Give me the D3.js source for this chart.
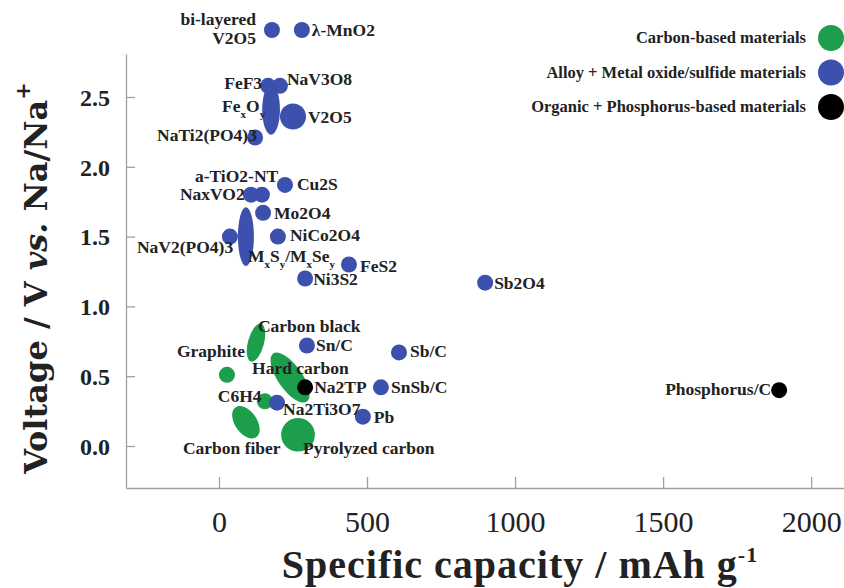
<!DOCTYPE html>
<html>
<head>
<meta charset="utf-8">
<script src="https://cdn.jsdelivr.net/npm/d3@7"></script>
<style>
  body { margin: 0; background: #fff; }
  text { font-family: "Liberation Serif", "Times New Roman", serif; }
</style>
</head>
<body>
<script>
// Materials (capacity in mAh/g, voltage in V vs Na/Na+)
const materials = ["bi-layered V2O5", "λ-MnO2", "FeF3", "NaV3O8", "FexOy", "V2O5", "NaTi2(PO4)3",
  "NaxVO2", "a-TiO2-NT", "Cu2S", "Mo2O4", "NiCo2O4", "NaV2(PO4)3", "MxSy/MxSey", "FeS2", "Ni3S2",
  "Sb2O4", "Sn/C", "Sb/C", "SnSb/C", "Pb", "Na2Ti3O7",
  "Carbon black", "Graphite", "Hard carbon", "C6H4", "Carbon fiber", "Pyrolyzed carbon",
  "Na2TP", "Phosphorus/C"];
const family = ["alloy", "alloy", "alloy", "alloy", "alloy", "alloy", "alloy",
  "alloy", "alloy", "alloy", "alloy", "alloy", "alloy", "alloy", "alloy", "alloy",
  "alloy", "alloy", "alloy", "alloy", "alloy", "alloy",
  "carbon", "carbon", "carbon", "carbon", "carbon", "carbon",
  "organic", "organic"];
const capacity = [179, 280, 166, 206, 176, 250, 122,
  108, 145, 223, 149, 199, 37, 91, 439, 291,
  899, 297, 608, 547, 486, 196,
  125, 27, 240, 155, 91, 267,
  291, 1892];
const voltage = [2.98, 2.98, 2.58, 2.58, 2.41, 2.36, 2.21,
  1.80, 1.80, 1.87, 1.67, 1.50, 1.50, 1.50, 1.30, 1.20,
  1.17, 0.72, 0.67, 0.42, 0.21, 0.31,
  0.74, 0.51, 0.49, 0.32, 0.17, 0.08,
  0.42, 0.40];
// half ranges (0 = single value)
const capRange = [0, 0, 0, 0, 30, 44, 0,
  0, 0, 0, 0, 0, 0, 27, 0, 0,
  0, 0, 0, 0, 0, 0,
  27, 0, 41, 0, 37, 57,
  0, 0];
const voltRange = [0, 0, 0, 0, 0.18, 0.093, 0,
  0, 0, 0, 0, 0, 0, 0.21, 0, 0,
  0, 0, 0, 0, 0, 0,
  0.14, 0, 0.21, 0, 0.13, 0.12,
  0, 0];

const xTicks = [0, 500, 1000, 1500, 2000];
const yTicks = [0, 0.5, 1.0, 1.5, 2.0, 2.5];
const legendLabels = ["Carbon-based materials", "Alloy + Metal oxide/sulfide materials", "Organic + Phosphorus-based materials"];
const legendKeys = ["carbon", "alloy", "organic"];

// label placement (pixels relative to marker), tilt of range ellipses
const labelText = {"bi-layered V2O5": ["bi-layered", "V2O5"], "FexOy": ["Fe_xO_y"], "MxSy/MxSey": ["M_xS_y/M_xSe_y"]};
const labelPos = {
  "bi-layered V2O5": [-16, -5, "end"], "λ-MnO2": [10, 6, "start"], "FeF3": [-6, 3, "end"],
  "NaV3O8": [7, -1, "start"], "FexOy": [-49, 2, "start"], "V2O5": [15, 6, "start"],
  "NaTi2(PO4)3": [-98, 4, "start"], "NaxVO2": [-71, 5, "start"], "a-TiO2-NT": [-67, -13, "start"],
  "Cu2S": [12, 5, "start"], "Mo2O4": [11, 6, "start"], "NiCo2O4": [12, 4, "start"],
  "NaV2(PO4)3": [-93, 16, "start"], "MxSy/MxSey": [2, 25, "start"], "FeS2": [11, 7, "start"],
  "Ni3S2": [8, 7, "start"], "Sb2O4": [9, 6, "start"], "Sn/C": [9, 6, "start"], "Sb/C": [11, 5, "start"],
  "SnSb/C": [10, 6, "start"], "Pb": [11, 6, "start"], "Na2Ti3O7": [6, 12, "start"],
  "Carbon black": [2, -11, "start"], "Graphite": [-50, -18, "start"], "Hard carbon": [-38, -4, "start"],
  "C6H4": [-47, 1, "start"], "Carbon fiber": [-63, 32, "start"], "Pyrolyzed carbon": [5, 19, "start"],
  "Na2TP": [9, 6, "start"], "Phosphorus/C": [-8, 5, "end"]
};
const tilt = {"Carbon black": 15, "Hard carbon": -35, "Carbon fiber": -35};

const color = d3.scaleOrdinal().domain(["carbon", "alloy", "organic"]).range(["#1c9e4b", "#3c51ad", "#000000"]);

var svg = d3.select("body")
  .append("svg")
  .attr("width", 844)
  .attr("height", 588)

const x = d3.scaleLinear().domain([-314, 2111]).range([126, 844]);
const y = d3.scaleLinear().domain([-0.301, 2.808]).range([488, 54]);

// axes
const xAxis = svg.append("g")
  .attr("transform", "translate(0,488)")
  .call(d3.axisBottom(x).tickValues(xTicks).tickSizeInner(-11).tickSizeOuter(0).tickFormat(d3.format("d")))
xAxis.selectAll("text").attr("y", 44).attr("dy", 0)
  .style("font-size", "30px").style("fill", "#222")

const yAxis = svg.append("g")
  .attr("transform", "translate(126,0)")
  .call(d3.axisLeft(y).tickValues(yTicks).tickSizeInner(-9).tickSizeOuter(0).tickFormat(d3.format(".1f")))
yAxis.selectAll("text").attr("x", -16).attr("dy", "0.35em")
  .style("font-size", "24px").style("font-weight", "bold").style("fill", "#222")

svg.selectAll(".domain, .tick line").attr("stroke", "#a0a0a0").attr("stroke-width", 1.3)
svg.selectAll(".tick text").style("font-family", "Liberation Serif")

// axis titles
const xt = svg.append("text")
  .attr("x", 520).attr("y", 578)
  .attr("text-anchor", "middle")
  .style("font-size", "40px").style("font-weight", "bold").style("fill", "#222")
  .style("letter-spacing", "1px")
xt.append("tspan").text("Specific capacity / mAh g")
xt.append("tspan").attr("dy", -16).style("font-size", "22px").text("-1")

const yt = svg.append("text")
  .attr("transform", "translate(47,278) rotate(-90)")
  .attr("text-anchor", "middle")
  .style("font-family", "DejaVu Serif")
  .style("font-size", "32px").style("font-weight", "bold").style("fill", "#222")
yt.append("tspan").text("Voltage / V ")
yt.append("tspan").style("font-style", "italic").text("vs.")
yt.append("tspan").text(" Na/Na")
yt.append("tspan").attr("dy", -17).style("font-size", "21px").text("+")

// markers
const rows = materials.map((m, i) => ({
  name: m, fam: family[i], cap: capacity[i], v: voltage[i], dc: capRange[i], dv: voltRange[i]
}));
const order = ["carbon", "alloy", "organic"];
rows.sort((a, b) => order.indexOf(a.fam) - order.indexOf(b.fam));

svg.append("g").selectAll("ellipse")
  .data(rows)
  .enter()
  .append("ellipse")
  .attr("cx", d => x(d.cap))
  .attr("cy", d => y(d.v))
  .attr("rx", d => d.dc ? x(d.dc) - x(0) : 8)
  .attr("ry", d => d.dv ? y(0) - y(d.dv) : 8)
  .attr("transform", d => tilt[d.name] ? `rotate(${tilt[d.name]},${x(d.cap)},${y(d.v)})` : null)
  .attr("fill", d => color(d.fam))

// labels
function addRich(sel, str) {
  str.split(/(_.)/).forEach(part => {
    if (part.startsWith("_")) {
      sel.append("tspan").attr("baseline-shift", "sub").style("font-size", "11px").text(part.slice(1))
    } else if (part.length) {
      sel.append("tspan").text(part)
    }
  })
}

const labels = svg.append("g")
rows.forEach(d => {
  const p = labelPos[d.name];
  const lines = labelText[d.name] || [d.name];
  lines.forEach((ln, k) => {
    const t = labels.append("text")
      .attr("x", x(d.cap) + p[0])
      .attr("y", y(d.v) + p[1] + k * 19)
      .attr("text-anchor", p[2])
      .style("font-size", "17.5px").style("font-weight", "bold").style("fill", "#222")
    addRich(t, ln)
  })
})

// legend
const legend = svg.append("g")
legendLabels.forEach((l, i) => {
  legend.append("text")
    .attr("x", 806).attr("y", 43 + i * 34.5)
    .attr("text-anchor", "end")
    .style("font-size", "16.5px").style("font-weight", "bold").style("fill", "#222")
    .text(l)
  legend.append("circle")
    .attr("cx", 831).attr("cy", 38 + i * 34.5).attr("r", 13)
    .attr("fill", color(legendKeys[i]))
})
</script>
</body>
</html>
